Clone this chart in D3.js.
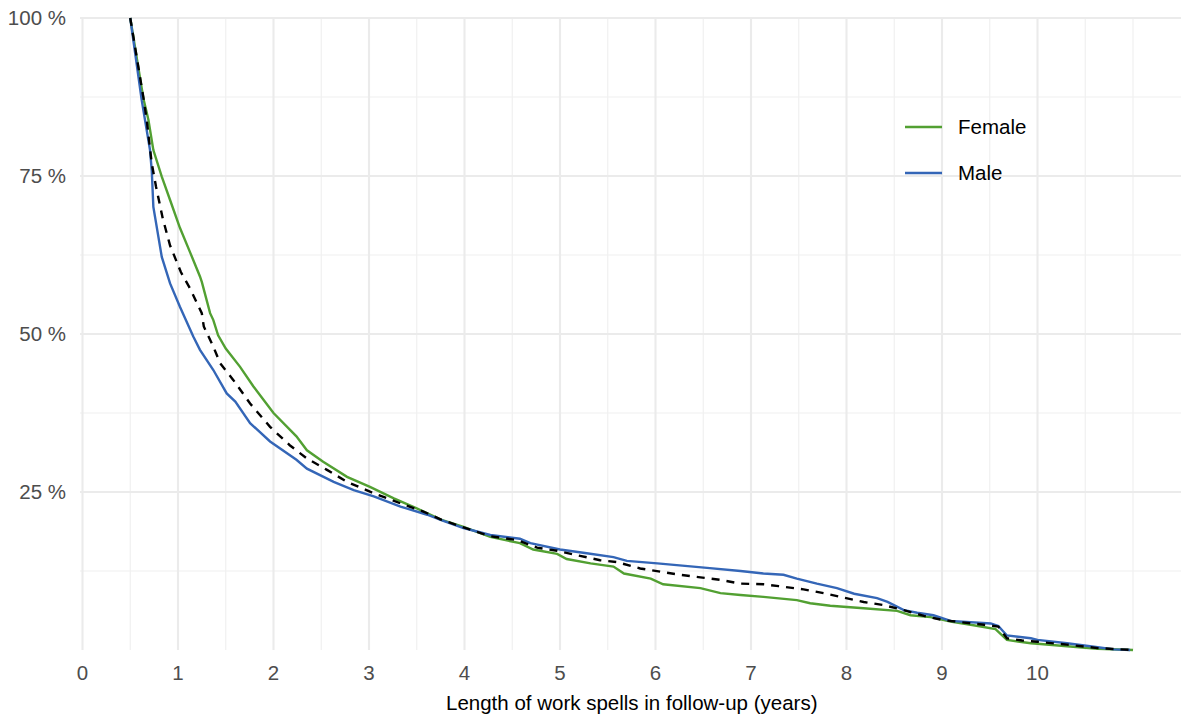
<!DOCTYPE html>
<html lang="en">
<head>
<meta charset="UTF-8">
<title>Work spells survival</title>
<script src="https://d3js.org/d3.v7.min.js"></script>
<style>
    body { margin: 0; background: #fff; }
    svg { display: block; font-family: "Liberation Sans", Arial, sans-serif; }
</style>
</head>
<body>
<div id="chart"></div>
<script>
// survival curves: [years, percent still in work]
const femaleCurve = [[0.5,100],[0.637,87.3],[0.69,83.9],[0.742,79.1],[0.83,74.9],[0.917,71.2],[1.02,66.8],[1.13,62.8],[1.23,59.1],[1.25,58.2],[1.336,53.3],[1.37,52.2],[1.42,49.8],[1.5,47.7],[1.65,44.8],[1.79,41.7],[2.0,37.5],[2.24,33.8],[2.35,31.6],[2.52,29.8],[2.77,27.4],[3.01,25.8],[3.26,24.0],[3.5,22.4],[3.76,20.6],[3.99,19.5],[4.27,17.9],[4.58,16.9],[4.72,15.9],[4.97,15.2],[5.07,14.4],[5.32,13.7],[5.56,13.2],[5.67,12.1],[5.95,11.3],[6.08,10.4],[6.47,9.8],[6.68,9.0],[6.89,8.7],[7.13,8.4],[7.48,7.9],[7.62,7.4],[7.83,7.0],[8.18,6.6],[8.53,6.2],[8.67,5.5],[8.88,5.2],[9.09,4.5],[9.30,4.0],[9.56,3.3],[9.68,1.6],[9.93,1.06],[10.0,1.0],[10.31,0.6],[10.63,0.2],[11.0,0]];
const maleCurve = [[0.5,100],[0.62,87],[0.707,79.1],[0.725,75.9],[0.742,70.1],[0.76,68.5],[0.83,62.2],[0.917,58.0],[1.02,54.3],[1.16,49.6],[1.23,47.5],[1.37,44.3],[1.51,40.6],[1.60,39.3],[1.755,35.9],[1.964,33.0],[2.24,30.1],[2.35,28.7],[2.63,26.6],[2.84,25.3],[3.05,24.3],[3.33,22.7],[3.61,21.4],[3.75,20.6],[3.99,19.3],[4.27,18.2],[4.58,17.6],[4.69,16.9],[5.0,15.9],[5.28,15.3],[5.56,14.7],[5.70,14.1],[6.02,13.7],[6.54,13.0],[6.89,12.5],[7.13,12.1],[7.34,11.9],[7.48,11.3],[7.69,10.5],[7.90,9.8],[8.08,8.9],[8.32,8.2],[8.43,7.6],[8.60,6.3],[8.74,5.9],[8.91,5.5],[9.09,4.6],[9.51,4.2],[9.59,3.8],[9.68,2.3],[9.93,1.85],[10.0,1.6],[10.31,1.06],[10.63,0.43],[10.8,0.1],[10.97,0]];
const allCurve = [[0.5,100],[0.64,87.2],[0.672,83.9],[0.725,77.0],[0.77,73.3],[0.84,68.3],[0.917,64.0],[1.03,59.8],[1.126,57.2],[1.249,53.3],[1.27,51.2],[1.37,48.0],[1.44,45.4],[1.58,42.7],[1.755,39.0],[1.964,35.3],[2.17,32.4],[2.35,30.3],[2.56,28.5],[2.77,26.6],[3.05,24.8],[3.33,23.2],[3.57,21.9],[3.76,20.6],[3.99,19.4],[4.27,18.0],[4.55,17.4],[4.76,16.2],[4.97,15.7],[5.21,14.9],[5.42,14.2],[5.60,13.9],[5.84,12.9],[6.05,12.4],[6.26,11.9],[6.47,11.5],[6.68,11.1],[6.89,10.5],[7.13,10.4],[7.29,10.1],[7.55,9.6],[7.76,9.0],[7.97,8.3],[8.18,7.6],[8.39,7.1],[8.60,6.3],[8.81,5.4],[9.02,4.7],[9.44,4.0],[9.59,3.7],[9.68,1.85],[9.84,1.5],[10.0,1.3],[10.31,0.85],[10.63,0.3],[11.0,0]];

const xTicks = [0, 1, 2, 3, 4, 5, 6, 7, 8, 9, 10];
const xMinor = [0.5, 1.5, 2.5, 3.5, 4.5, 5.5, 6.5, 7.5, 8.5, 9.5, 10.5, 11];
const yTicks = [25, 50, 75, 100];
const yMinor = [12.5, 37.5, 62.5, 87.5];
const legendItems = ["Female", "Male"];
const colors = { Female: "#52a032", Male: "#3466b7" };

const width = 1181, height = 717;
const panel = { left: 80, right: 1181, top: 18, bottom: 650 };
const fontSize = 20.5;

const x = d3.scaleLinear().domain([0, 10]).range([82.5, 1037.5]);
const y = d3.scaleLinear().domain([0, 100]).range([panel.bottom, panel.top]);

const svg = d3.select("#chart").append("svg")
    .attr("width", width)
    .attr("height", height);

// grid
const grid = svg.append("g");
grid.selectAll(".ymin").data(yMinor).enter().append("line")
    .attr("x1", panel.left).attr("x2", panel.right)
    .attr("y1", d => y(d)).attr("y2", d => y(d))
    .attr("stroke", "#f0f0f0").attr("stroke-width", 1.2);
grid.selectAll(".xmin").data(xMinor).enter().append("line")
    .attr("x1", d => x(d)).attr("x2", d => x(d))
    .attr("y1", panel.top).attr("y2", panel.bottom)
    .attr("stroke", "#f0f0f0").attr("stroke-width", 1.2);
grid.selectAll(".ymaj").data(yTicks).enter().append("line")
    .attr("x1", panel.left).attr("x2", panel.right)
    .attr("y1", d => y(d)).attr("y2", d => y(d))
    .attr("stroke", "#ebebeb").attr("stroke-width", 2.1);
grid.selectAll(".xmaj").data(xTicks).enter().append("line")
    .attr("x1", d => x(d)).attr("x2", d => x(d))
    .attr("y1", panel.top).attr("y2", panel.bottom)
    .attr("stroke", "#ebebeb").attr("stroke-width", 2.1);

// axis labels
svg.append("g").selectAll("text").data(yTicks).enter().append("text")
    .attr("x", 66).attr("y", d => y(d)).attr("dy", "0.36em")
    .attr("text-anchor", "end").attr("font-size", fontSize).attr("fill", "#4d4d4d")
    .text(d => d + " %");
svg.append("g").selectAll("text").data(xTicks).enter().append("text")
    .attr("x", d => x(d)).attr("y", 680)
    .attr("text-anchor", "middle").attr("font-size", fontSize).attr("fill", "#4d4d4d")
    .text(d => d);
svg.append("text")
    .attr("x", (82.5 + 1181) / 2).attr("y", 710)
    .attr("text-anchor", "middle").attr("font-size", fontSize).attr("fill", "#000")
    .text("Length of work spells in follow-up (years)");

// curves
const line = d3.line().x(d => x(d[0])).y(d => y(d[1]));
svg.append("path").datum(femaleCurve).attr("d", line)
    .attr("fill", "none").attr("stroke", colors.Female).attr("stroke-width", 2.4);
svg.append("path").datum(maleCurve).attr("d", line)
    .attr("fill", "none").attr("stroke", colors.Male).attr("stroke-width", 2.4);
svg.append("path").datum(allCurve).attr("d", line)
    .attr("fill", "none").attr("stroke", "#000").attr("stroke-width", 2.4)
    .attr("stroke-dasharray", "8,7");

// legend
const legend = svg.append("g");
legendItems.forEach((name, i) => {
    const ly = 127 + i * 46;
    legend.append("line")
        .attr("x1", 905).attr("x2", 942).attr("y1", ly).attr("y2", ly)
        .attr("stroke", colors[name]).attr("stroke-width", 2.4);
    legend.append("text")
        .attr("x", 958).attr("y", ly).attr("dy", "0.36em")
        .attr("font-size", fontSize).attr("fill", "#000")
        .text(name);
});
</script>
</body>
</html>
